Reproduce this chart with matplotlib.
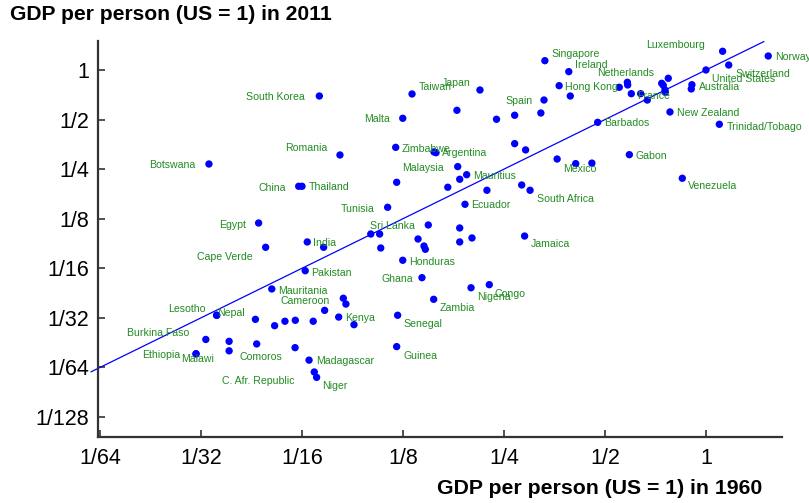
import matplotlib
matplotlib.use("Agg")
import matplotlib.pyplot as plt
from matplotlib.ticker import FixedLocator, FixedFormatter, NullLocator

plt.rcParams['font.family'] = ['Liberation Sans', 'DejaVu Sans']

# ---------------- data ----------------
countries = [
    "Singapore", "Ireland", "Hong Kong", "Spain", "Japan", "Taiwan", "Malta",
    "South Korea", "Netherlands", "France", "Luxembourg", "United States",
    "Switzerland", "Norway", "Australia", "New Zealand", "Trinidad/Tobago",
    "Barbados", "Zimbabwe", "Argentina", "Mexico", "Gabon", "Venezuela",
    "Malaysia", "Mauritius", "South Africa", "Ecuador", "Tunisia", "Sri Lanka",
    "Jamaica", "Honduras", "Botswana", "Romania", "China", "Thailand", "Egypt",
    "Cape Verde", "India", "Pakistan", "Mauritania", "Cameroon", "Lesotho",
    "Nepal", "Kenya", "Senegal", "Burkina Faso", "Comoros", "Ethiopia",
    "Malawi", "Madagascar", "C. Afr. Republic", "Niger", "Guinea", "Ghana",
    "Zambia", "Nigeria", "Congo",
]
gdp_1960 = [
    0.331, 0.390, 0.365, 0.329, 0.212, 0.133, 0.1248,
    0.0704, 0.583, 0.599, 1.121, 1.0,
    1.169, 1.533, 0.908, 0.781, 1.096,
    0.4755, 0.1189, 0.1546, 0.409, 0.591, 0.850,
    0.1197, 0.1935, 0.299, 0.1913, 0.1125, 0.1002,
    0.288, 0.1248, 0.0330, 0.0811, 0.0611, 0.0625, 0.0464,
    0.0487, 0.0648, 0.0639, 0.0508, 0.0830, 0.0348,
    0.0348, 0.0804, 0.1205, 0.0323, 0.0379, 0.0302,
    0.0302, 0.0656, 0.0680, 0.0691, 0.1197, 0.1424,
    0.1543, 0.1994, 0.226,
]
gdp_2011 = [
    1.139, 0.977, 0.803, 0.657, 0.756, 0.715, 0.509,
    0.695, 0.842, 0.718, 1.299, 1.0,
    1.072, 1.216, 0.814, 0.556, 0.468,
    0.481, 0.339, 0.318, 0.270, 0.306, 0.220,
    0.208, 0.2313, 0.186, 0.1529, 0.1466, 0.1009,
    0.0981, 0.0699, 0.2686, 0.3047, 0.1967, 0.1967, 0.1177,
    0.0838, 0.0903, 0.0604, 0.0468, 0.0411, 0.0324,
    0.0324, 0.0316, 0.0324, 0.0231, 0.0197, 0.0189,
    0.0189, 0.0173, 0.01466, 0.0136, 0.0209, 0.0548,
    0.0405, 0.0476, 0.0497,
]
# countries drawn without a label
other_1960 = [
    0.394, 0.322, 0.269, 0.2375, 0.181,
    0.5843, 0.5516, 0.6388, 0.6684,
    0.738, 0.746, 0.772, 0.7547, 0.7563, 0.904,
    0.1568, 0.269, 0.290, 0.360, 0.457,
    0.182, 0.1845, 0.170, 0.2224, 0.2823,
    0.1487, 0.1065, 0.1845, 0.2007, 0.1845,
    0.1386, 0.1444, 0.1457, 0.1073, 0.0725,
    0.0845, 0.073, 0.0454, 0.0518, 0.0556, 0.0597, 0.0675,
    0.0893, 0.0379, 0.0458, 0.0596,
]
other_2011 = [
    0.695, 0.548, 0.531, 0.502, 0.569,
    0.811, 0.785, 0.718, 0.657,
    0.830, 0.807, 0.8905, 0.756, 0.732, 0.767,
    0.3146, 0.357, 0.327, 0.288, 0.272,
    0.259, 0.217, 0.194, 0.186, 0.2003,
    0.1145, 0.1009, 0.1098, 0.0955, 0.0903,
    0.0941, 0.0853, 0.0815, 0.083, 0.0838,
    0.0379, 0.0347, 0.0306, 0.028, 0.0298, 0.0302, 0.0298,
    0.0284, 0.0225, 0.0217, 0.0206,
]
tick_values = [1/128, 1/64, 1/32, 1/16, 1/8, 1/4, 1/2, 1]
tick_labels = ["1/128", "1/64", "1/32", "1/16", "1/8", "1/4", "1/2", "1"]
x_tick_values = tick_values[1:]
x_tick_labels = tick_labels[1:]

# ---------------- label placement (pixels: dx right, dy down, alignment) ----------------
label_pos = {
    "Singapore": (7, -6.4, "left"), "Ireland": (6, -6.7, "left"),
    "Hong Kong": (6, 1, "left"), "Spain": (-11, 1, "right"),
    "Japan": (-9, -6.7, "right"), "Taiwan": (7, -6.7, "left"),
    "Malta": (-12.7, 0.7, "right"), "South Korea": (-15, 0.7, "right"),
    "Netherlands": (-30.6, -9.6, "left"), "France": (6, 2, "left"),
    "Luxembourg": (-17.7, -6, "right"), "United States": (6.4, 9, "left"),
    "Switzerland": (6.3, 9, "left"), "Norway": (6.7, 1.3, "left"),
    "Australia": (7, 2, "left"), "New Zealand": (6.7, 1, "left"),
    "Trinidad/Tobago": (7.4, 2.4, "left"), "Barbados": (6.3, 1, "left"),
    "Zimbabwe": (6, 2, "left"), "Argentina": (7.7, 1.3, "left"),
    "Mexico": (-12.4, 5, "left"), "Gabon": (6.4, 1.6, "left"),
    "Venezuela": (6, 7.7, "left"), "Malaysia": (5, -14.3, "left"),
    "Mauritius": (6.6, 1.3, "left"), "South Africa": (6.7, 9, "left"),
    "Ecuador": (6, 1, "left"), "Tunisia": (-13.4, 1.7, "right"),
    "Sri Lanka": (-0.7, -8.3, "left"), "Jamaica": (6.3, 8.3, "left"),
    "Honduras": (6.3, 1.4, "left"), "Botswana": (-13.3, 1, "right"),
    "Romania": (-12.7, -6.7, "right"), "China": (-12.7, 2, "right"),
    "Thailand": (7, 1, "left"), "Egypt": (-12.7, 1.7, "right"),
    "Cape Verde": (-13.4, 9.4, "right"), "India": (6, 1.3, "left"),
    "Pakistan": (6.4, 2, "left"), "Mauritania": (6.6, 1.7, "left"),
    "Cameroon": (-13.3, 2.4, "right"), "Lesotho": (-11, -6.6, "right"),
    "Nepal": (0.6, -2.6, "left"), "Kenya": (6.3, 1.4, "left"),
    "Senegal": (6.3, 9, "left"), "Burkina Faso": (-16.7, -6.2, "right"),
    "Comoros": (10.3, 6.6, "left"), "Ethiopia": (-15.3, 1.3, "right"),
    "Malawi": (-15, 5.6, "left"), "Madagascar": (6.7, 1, "left"),
    "C. Afr. Republic": (-20.3, 9, "right"), "Niger": (5.6, 8.7, "left"),
    "Guinea": (6.6, 9, "left"), "Ghana": (-9.3, 1.3, "right"),
    "Zambia": (6.3, 9, "left"), "Nigeria": (6.3, 9.6, "left"),
    "Congo": (5.7, 9, "left"),
}

DOT = "#0000FF"
TXT = "#228B22"
AXC = "#333333"

fig = plt.figure(figsize=(8.09, 5.03), dpi=100)
ax = fig.add_axes([97.7 / 809, 66 / 503, (782 - 97.7) / 809, (437 - 40.7) / 503])
ax.set_xscale("log", base=2)
ax.set_yscale("log", base=2)
ax.set_xlim(0.01538, 1.685)
ax.set_ylim(0.005906, 1.506)

# 45-degree reference line
ax.plot([0.0147, 1.487], [0.0147, 1.487], color=DOT, lw=0.9, clip_on=False, zorder=2)

ax.scatter(other_1960, other_2011, s=28, color=DOT, edgecolors="none", zorder=3)
ax.scatter(gdp_1960, gdp_2011, s=28, color=DOT, edgecolors="none", zorder=3)

for name, xv, yv in zip(countries, gdp_1960, gdp_2011):
    dx, dy, ha = label_pos[name]
    ax.annotate(name, (xv, yv), xytext=(dx, -dy), textcoords="offset pixels",
                ha=ha, va="center", fontsize=7.6, color=TXT, zorder=4,
                annotation_clip=False)

for side in ("top", "right"):
    ax.spines[side].set_visible(False)
for side in ("left", "bottom"):
    ax.spines[side].set_color(AXC)
    ax.spines[side].set_linewidth(1.6)

ax.xaxis.set_major_locator(FixedLocator(x_tick_values))
ax.xaxis.set_major_formatter(FixedFormatter(x_tick_labels))
ax.yaxis.set_major_locator(FixedLocator(tick_values))
ax.yaxis.set_major_formatter(FixedFormatter(tick_labels))
ax.xaxis.set_minor_locator(NullLocator())
ax.yaxis.set_minor_locator(NullLocator())
ax.tick_params(axis="x", direction="in", length=5, width=1.2, color=AXC,
               labelsize=15.5, pad=8, labelcolor="black")
ax.tick_params(axis="y", direction="in", length=5, width=1.2, color=AXC,
               labelsize=15.5, pad=6, labelcolor="black")

fig.text(10 / 809, 1 - 15 / 503, "GDP per person (US = 1) in 2011",
         ha="left", va="center", fontsize=15.2, fontweight="bold")
fig.text(762 / 809, 1 - 488 / 503, "GDP per person (US = 1) in 1960",
         ha="right", va="center", fontsize=15.3, fontweight="bold")

fig.savefig("out.png", dpi=100)
